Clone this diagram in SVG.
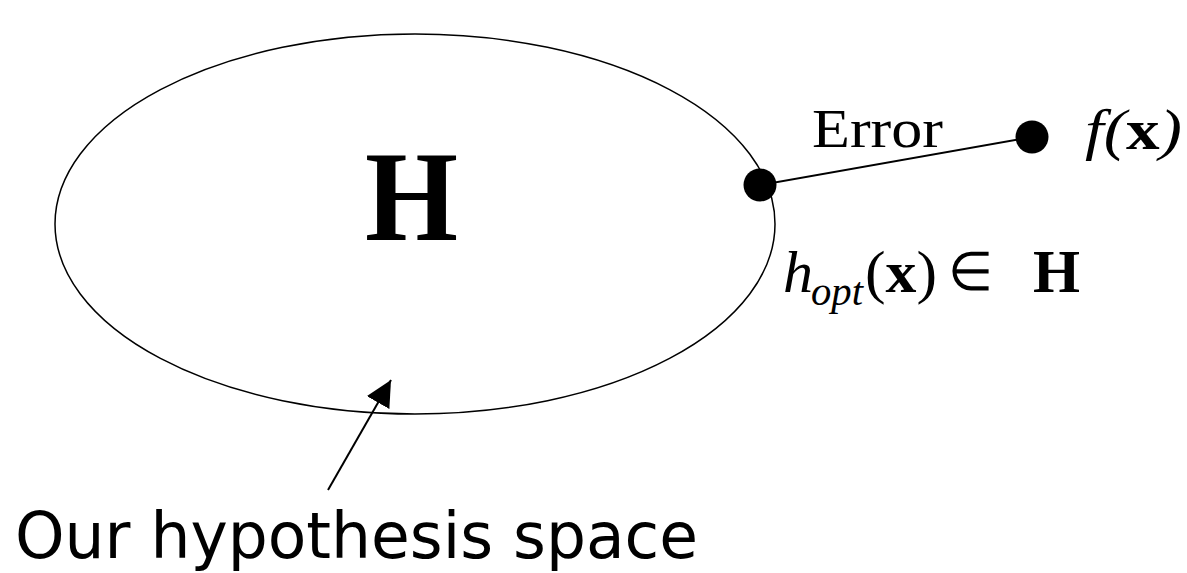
<svg xmlns="http://www.w3.org/2000/svg" width="1187" height="573" viewBox="0 0 1187 573">
<style>
.serif{font-family:"Liberation Serif","Times New Roman",serif;fill:#000}
.sans{font-family:"DejaVu Sans",Verdana,sans-serif;fill:#000}
.it{font-style:italic}
.bd{font-weight:bold}
</style>
<defs>
<marker id="ah" viewBox="0 0 10 10" refX="10" refY="5" markerWidth="26" markerHeight="26" markerUnits="userSpaceOnUse" orient="auto"><path d="M0,0 L10,5 L0,10 z" fill="#000"/></marker>
</defs>
<rect width="1187" height="573" fill="#fff"/>
<g id="space">
<ellipse cx="415" cy="224" rx="360" ry="190" fill="none" stroke="#000" stroke-width="1.5"/>
<text class="serif bd" x="365" y="240" font-size="130" textLength="93" lengthAdjust="spacingAndGlyphs">H</text>
</g>
<g id="connectors">
<line x1="760" y1="185" x2="1032" y2="137" stroke="#000" stroke-width="2"/>
<line x1="328" y1="490" x2="391" y2="380" stroke="#000" stroke-width="2" marker-end="url(#ah)"/>
</g>
<g id="hopt">
<circle cx="760" cy="185" r="16.5" fill="#000"/>
<text class="serif it" x="783" y="292" font-size="60">h</text>
<text class="serif it" x="811" y="305" font-size="40" textLength="52" lengthAdjust="spacingAndGlyphs">opt</text>
<text class="serif" x="865" y="292" font-size="60" textLength="72" lengthAdjust="spacingAndGlyphs">(<tspan class="bd">x</tspan>)</text>
<text class="serif" x="948" y="290" font-size="54" textLength="45" lengthAdjust="spacingAndGlyphs">∈</text>
<text class="serif bd" x="1033" y="292" font-size="62" textLength="47" lengthAdjust="spacingAndGlyphs">H</text>
</g>
<g id="fx">
<circle cx="1032" cy="137" r="16.5" fill="#000"/>
<text class="serif it" x="1085" y="149" font-size="57" textLength="97" lengthAdjust="spacingAndGlyphs">f(<tspan class="bd" font-style="normal">x</tspan>)</text>
</g>
<text class="serif" x="812" y="147" font-size="54" textLength="131" lengthAdjust="spacingAndGlyphs">Error</text>
<text class="sans" x="15" y="558" font-size="64" textLength="683" lengthAdjust="spacingAndGlyphs">Our hypothesis space</text>
</svg>
